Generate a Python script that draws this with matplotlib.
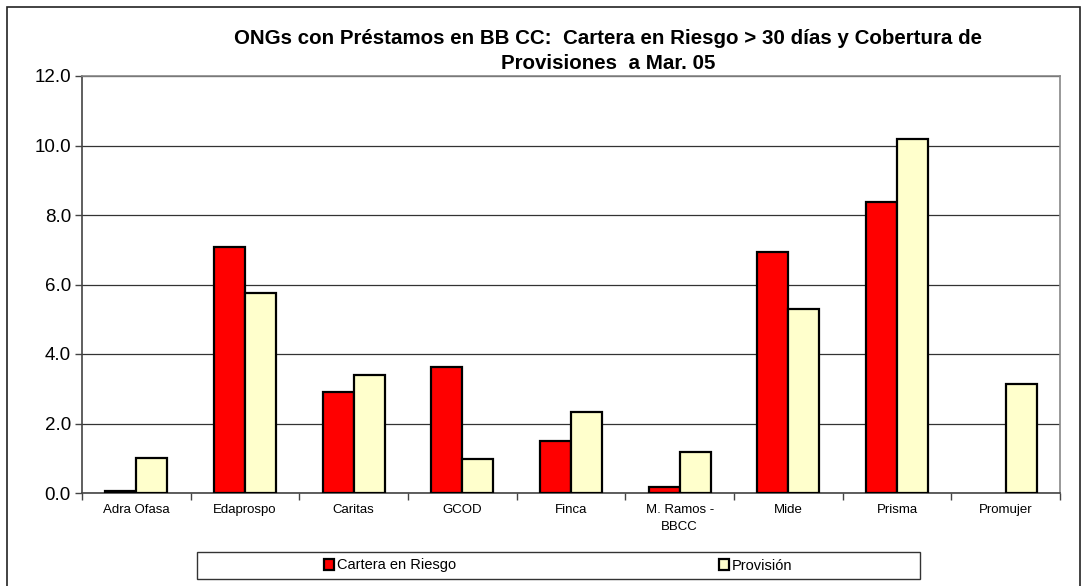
import numpy as np
import matplotlib.pyplot as plt
from matplotlib.patches import Rectangle

plt.rcParams['font.family'] = ['Liberation Sans', 'DejaVu Sans']

ongs = ['Adra Ofasa', 'Edaprospo', 'Caritas', 'GCOD', 'Finca',
        'M. Ramos -\nBBCC', 'Mide', 'Prisma', 'Promujer']
cartera = [0.06, 7.09, 2.92, 3.63, 1.51, 0.17, 6.94, 8.37, 0.0]  # Cartera en Riesgo
provision = [1.00, 5.75, 3.40, 0.97, 2.32, 1.17, 5.29, 10.19, 3.14]  # Provisión
yticks = [0.0, 2.0, 4.0, 6.0, 8.0, 10.0, 12.0]

fig = plt.figure(figsize=(10.83, 5.86), dpi=100)
ax = fig.add_axes([82/1083, 1-493/586, (1060-82)/1083, (493-76)/586])

x = np.arange(len(ongs))
w = 1/3.5  # excel gap width 150
# no outline for empty bars
lw_c = [1.6 if v > 0 else 0 for v in cartera]
lw_p = [1.6 if v > 0 else 0 for v in provision]
ax.bar(x - w/2, cartera, w, color='#FF0000', edgecolor='black', linewidth=lw_c,
       label='Cartera en Riesgo', zorder=3)
ax.bar(x + w/2, provision, w, color='#FFFFCC', edgecolor='black', linewidth=lw_p,
       label='Provisión', zorder=3)

ax.set_xlim(-0.5, len(ongs)-0.5)
ax.set_ylim(0, 12)
ax.set_yticks(yticks)
ax.set_yticklabels(['%.1f' % v for v in yticks], fontsize=13.5)
ax.set_xticks(x)
ax.set_xticklabels(ongs, fontsize=9.5, linespacing=1.5)
ax.set_xticks(np.arange(-0.5, len(ongs), 1), minor=True)
ax.tick_params(axis='x', which='major', length=0, pad=8)
ax.tick_params(axis='x', which='minor', length=5, width=1, color='#444444')
ax.tick_params(axis='y', length=5, width=1, color='#444444', pad=3)
ax.yaxis.grid(True, color='#333333', lw=0.9, zorder=0)
ax.set_axisbelow(True)
for s in ['top', 'right']:
    ax.spines[s].set_color('#888888')
    ax.spines[s].set_linewidth(1.2)
for s in ['left', 'bottom']:
    ax.spines[s].set_color('#444444')
    ax.spines[s].set_linewidth(1.2)

fig.text(608/1083, 1-29/586,
         'ONGs con Préstamos en BB CC:  Cartera en Riesgo > 30 días y Cobertura de\nProvisiones  a Mar. 05',
         ha='center', va='top', fontsize=14.8, fontweight='bold', linespacing=1.4)

# legend box
fig.patches.append(Rectangle((197/1083, 1-579/586), (920-197)/1083, (579-552)/586,
                             transform=fig.transFigure, fill=False,
                             edgecolor='#333333', lw=1))
fig.legend(loc='center', bbox_to_anchor=(558/1083, 1-565.5/586), ncol=2,
           frameon=False, fontsize=10.5, handlelength=0.7, handleheight=0.7,
           handletextpad=0.2, columnspacing=18)

# outer frame
fig.patches.append(Rectangle((7/1083, -0.05), (1080-7)/1083, 1.05-7/586,
                             transform=fig.transFigure, fill=False,
                             edgecolor='#222222', lw=1.2))

fig.savefig('out.png', dpi=100)
